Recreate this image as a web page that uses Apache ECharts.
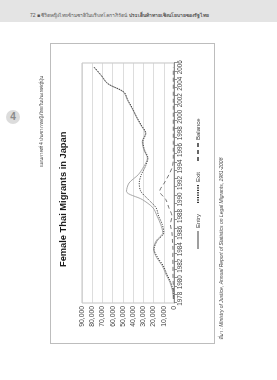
<!DOCTYPE html>
<html>
<head>
<meta charset="utf-8">
<script src="https://cdn.jsdelivr.net/npm/echarts@6/dist/echarts.min.js"></script>
<style>
  html, body { margin: 0; padding: 0; background: #fff; }
  .page { position: relative; width: 277px; height: 380px; overflow: hidden; font-family: "Liberation Sans", Arial, sans-serif; }
  .head { position: absolute; left: 0; top: 0; width: 277px; height: 22px; background: #e4e4e4; }
  .head span { position: absolute; left: 30px; top: 11px; font-size: 5px; color: #555; white-space: nowrap; }
  .num { position: absolute; left: 6px; top: 110px; width: 14px; height: 14px; border-radius: 50%; background: #dcdcdc;
         color: #8a8a8a; font-size: 10px; font-weight: bold; text-align: center; line-height: 14px; }
  .box { position: absolute; left: 50px; top: 43px; width: 163px; height: 299px; border: 1px solid #bdbdbd; }
  /* the chart is drawn upright and turned a quarter left, as in the book */
  .chart { position: absolute; left: 30px; top: 343px; width: 300px; height: 210px;
           transform: rotate(-90deg); transform-origin: 0 0; }
</style>
</head>
<body>
<div class="page">
  <div class="head"><span>72 ■ ชีวิตหญิงไทยข้ามชาติในบริบทโลกาภิวัตน์ <b>ประเด็นท้าทายเชิงนโยบายของรัฐไทย</b></span></div>
  <div class="num">4</div>
  <div class="box"></div>
  <div class="chart" id="chart"></div>
</div>
<script>
// years on the category axis
var years = ['1978', '1979', '1980', '1981', '1982', '1983', '1984', '1985', '1986', '1987',
  '1988', '1989', '1990', '1991', '1992', '1993', '1994', '1995', '1996', '1997',
  '1998', '1999', '2000', '2001', '2002', '2003', '2004', '2005', '2006'];

var entry = [800, 1500, 4000, 8000, 11500, 17000, 20000, 17500, 11000, 13000,
  16500, 20500, 31000, 46500, 44000, 35000, 29500, 26000, 29500, 31000,
  28000, 32500, 37000, 41000, 45500, 49500, 65000, 71500, 78500];

var exit = [300, 1000, 3200, 7000, 10500, 16000, 19500, 16500, 10000, 11500,
  15000, 17500, 25000, 32500, 34000, 32000, 28000, 25500, 28800, 30500,
  27500, 32000, 36500, 40500, 45000, 49000, 64500, 71000, 78000];

var balance = [500, 500, 800, 1000, 1000, 1200, 1000, 1500, 2000, 3500,
  2000, 5000, 8000, 14000, 9500, 5000, 1500, 700, 700, 700,
  700, 700, 700, 700, 700, 700, 700, 700, 700];

var chart = echarts.init(document.getElementById('chart'), null, { renderer: 'canvas' });

var option = {
  backgroundColor: 'rgba(0,0,0,0)',
  animation: false,
  textStyle: { fontFamily: '"Liberation Sans", Arial, sans-serif' },
  title: [
    {
      text: 'Female Thai Migrants in Japan',
      left: 76,
      top: 29,
      padding: 0,
      textStyle: { fontSize: 9.3, fontWeight: 'bold', color: '#1a1a1a' }
    },
    {
      text: 'แผนภาพที่ 4 ประชากรหญิงไทยในประเทศญี่ปุ่น',
      left: 176,
      top: 9,
      padding: 0,
      textStyle: { fontSize: 4.5, fontWeight: 'normal', color: '#333' }
    },
    {
      text: 'ที่มา : Ministry of Justice, Annual Report of Statistics on Legal Migrants, 1981-2008',
      left: 3,
      top: 189,
      padding: 0,
      textStyle: { fontSize: 5, fontWeight: 'normal', fontStyle: 'italic', color: '#444' }
    }
  ],
  legend: {
    left: 93,
    top: 165,
    padding: 0,
    itemWidth: 18,
    itemHeight: 6,
    itemGap: 10,
    // only the line sample, no marker in the middle
    itemStyle: { opacity: 0 },
    textStyle: { fontSize: 6, color: '#444', padding: [0, 0, 0, -2] },
    data: ['Entry', 'Exit', 'Balance']
  },
  grid: {
    left: 40,
    right: 20,
    top: 52,
    bottom: 66,
    show: true,
    borderColor: '#b5b5b5',
    borderWidth: 0.8,
    containLabel: false,
    outerBoundsMode: 'none'
  },
  xAxis: {
    type: 'category',
    data: years,
    boundaryGap: true,
    axisLine: { lineStyle: { color: '#777', width: 0.8 } },
    axisTick: { show: true, interval: 0, length: 3, lineStyle: { color: '#777', width: 0.8 } },
    axisLabel: { interval: 1, fontSize: 6.3, color: '#444', margin: 3 }
  },
  yAxis: {
    type: 'value',
    min: 0,
    max: 90000,
    interval: 10000,
    axisLine: { show: false },
    axisTick: { show: false },
    splitLine: { lineStyle: { color: '#cfcfcf', width: 0.7 } },
    axisLabel: {
      fontSize: 6.8,
      color: '#444',
      margin: 3,
      formatter: function (v) {
        return v.toLocaleString('en-US');
      }
    }
  },
  series: [
    {
      name: 'Entry',
      type: 'line',
      data: entry,
      smooth: 0.3,
      symbol: 'none',
      lineStyle: { color: '#9e9e9e', width: 0.9, type: 'solid' },
      itemStyle: { color: '#9e9e9e' }
    },
    {
      name: 'Exit',
      type: 'line',
      data: exit,
      smooth: 0.3,
      symbol: 'none',
      lineStyle: { color: '#333', width: 0.9, type: [1.2, 1.2] },
      itemStyle: { color: '#333' }
    },
    {
      name: 'Balance',
      type: 'line',
      data: balance,
      smooth: 0.3,
      symbol: 'none',
      lineStyle: { color: '#666', width: 0.9, type: [4, 3] },
      itemStyle: { color: '#666' }
    }
  ]
};

chart.setOption(option);
</script>
</body>
</html>
